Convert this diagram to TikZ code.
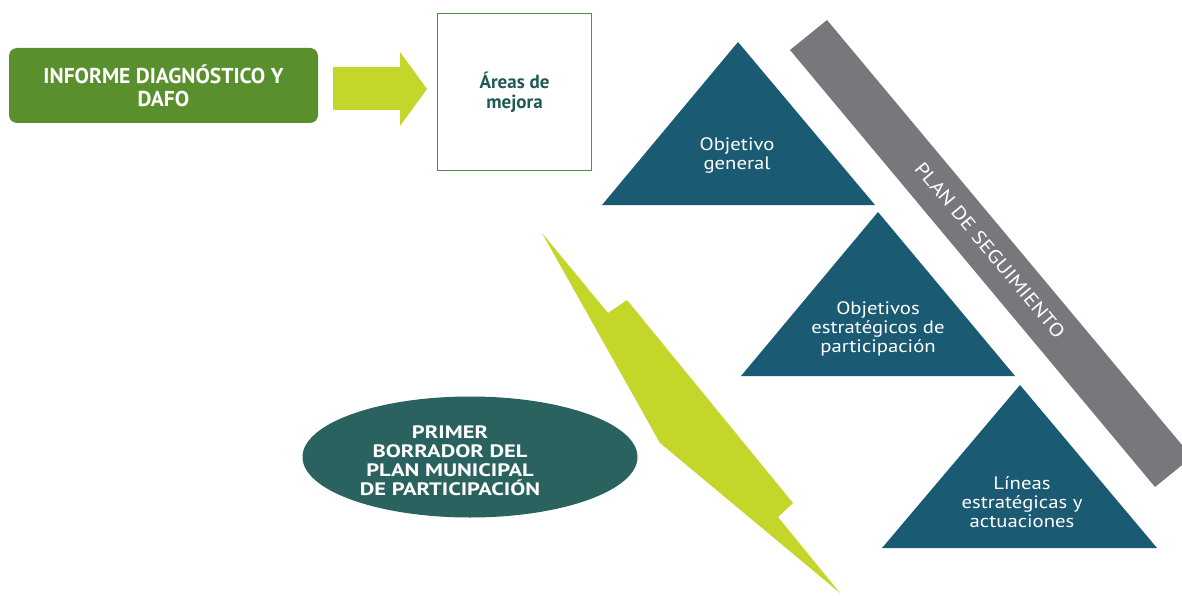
\documentclass[tikz,border=0pt]{standalone}
\usepackage{fontspec}
\setmainfont{PT Sans}
\newfontfamily\anchafont{PT Sans}[FakeStretch=1.25]
\newfontfamily\trifont{PT Sans}[FakeStretch=1.15]
\usetikzlibrary{shapes.geometric,calc}

\definecolor{verdeinf}{HTML}{5A8F2E}
\definecolor{lima}{HTML}{C4D62A}
\definecolor{azultri}{HTML}{1B5A73}
\definecolor{tealelip}{HTML}{2A625F}
\definecolor{grisplan}{HTML}{77787B}
\definecolor{verdeborde}{HTML}{4E8F4A}
\definecolor{tealtxt}{HTML}{1F5A57}

\tikzset{
  informe/.style={fill=verdeinf, rounded corners=8pt, text=white, align=center,
    font=\bfseries\fontsize{21.5}{23}\selectfont, minimum width=309pt, minimum height=75pt},
  areas/.style={draw=verdeborde, line width=1.2pt, text=tealtxt, align=center,
    font=\bfseries\fontsize{19}{20.5}\selectfont, minimum width=154pt, minimum height=157pt},
  borrador/.style={ellipse, fill=tealelip, minimum width=335pt, minimum height=121pt},
  borradortxt/.style={text=white, align=center, font=\anchafont\bfseries\fontsize{18}{19}\selectfont},
  tritxt/.style={text=white, align=center, font=\trifont\fontsize{18}{19}\selectfont},
  triangulo/.style={fill=azultri},
  plantxt/.style={text=white, font=\trifont\fontsize{19}{20}\selectfont, rotate=-50.1}
}

\begin{document}
\begin{tikzpicture}[x=1pt, y=-1pt]
  \useasboundingbox (0,0) rectangle (1182,596);
  \clip (0,0) rectangle (1182,596);

  % recuadros de arriba
  \node[informe] (informe) at (163.5,85.5) {INFORME DIAGNÓSTICO Y\\DAFO};
  \node[areas] (areas) at (514.5,92) {Áreas de\\mejora};
  \fill[lima] (333,67) -- (400,67) -- (400,52) -- (427,89) -- (400,126)
    -- (400,110) -- (333,110) -- cycle;

  % banda del plan de seguimiento
  \fill[grisplan] (790,50) -- (827,20) -- (1192,457) -- (1155,487) -- cycle;
  \node[plantxt] (plan) at (990,250) {PLAN DE SEGUIMIENTO};

  % triangulos
  \fill[triangulo] (738,42) -- ++(-136,163) -- ++(273,0) -- cycle;
  \fill[triangulo] (878,212) -- ++(-137,164) -- ++(274,0) -- cycle;
  \fill[triangulo] (1020,385) -- ++(-138,163) -- ++(275,0) -- cycle;
  \node[tritxt] (general) at (737,156) {Objetivo\\general};
  \node[tritxt] (estrategicos) at (878,329) {Objetivos\\estratégicos de\\participación};
  \node[tritxt] (lineas) at (1022,502) {Líneas\\estratégicas y\\actuaciones};

  % rayo
  \fill[lima] (542,233) -- (608,313) -- (627,300) -- (793,503) -- (778,517)
    -- (840,593) -- (660,443) -- cycle;

  % elipse
  \node[borrador] (borrador) at (470,457) {};
  \node[borradortxt] (borradortexto) at (450,461)
    {PRIMER\\BORRADOR DEL\\PLAN MUNICIPAL\\DE PARTICIPACIÓN};
\end{tikzpicture}
\end{document}
